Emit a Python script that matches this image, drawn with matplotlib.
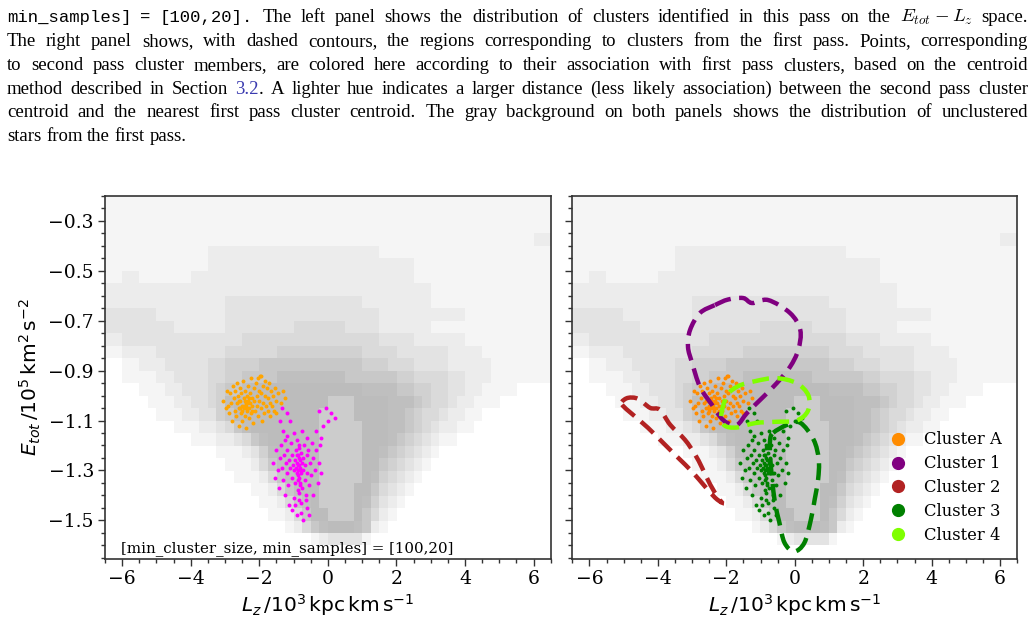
import numpy as np
import matplotlib
matplotlib.use('Agg')
import matplotlib.pyplot as plt
from matplotlib.path import Path
from matplotlib.patches import PathPatch
from matplotlib.ticker import MultipleLocator
from matplotlib.lines import Line2D

# ---------------- data ----------------
# gray background: fill level (0-9) of unclustered first-pass stars.
# cells are 0.25 (Lz) x 0.05 (Etot); each row has 13 groups of 4 cells
# (group k covers Lz = -6.5+k .. -5.5+k); rows run from Etot=-0.20 (top) to -1.65
bg_Lz_range = (-6.5, 6.5)
bg_E_range = (-1.65, -0.20)
bg_rows = [
    "1111 1111 1111 1111 1111 1111 1111 1111 1111 1111 1111 1111 1111",
    "1111 1111 1111 1111 1111 1111 1111 1111 1111 1111 1111 1111 1111",
    "1111 1111 1111 1111 1111 1111 1111 1111 1111 1111 1111 1111 1111",
    "1111 1111 1111 1111 1111 1111 1111 1111 1111 1111 1111 1111 1122",
    "1111 1111 1111 2222 2222 2222 2222 2222 1111 1111 1111 1111 1111",
    "1111 1111 1111 2222 2222 2222 2222 2222 2222 1111 1111 1111 1111",
    "1122 1111 1122 2222 2222 2222 2222 2222 2222 1111 1111 1111 1111",
    "2222 2222 2222 2222 2222 2222 2222 2222 2222 2211 1111 1111 1111",
    "2222 2222 2222 2233 3333 3333 3333 3322 2222 2211 1111 1111 1111",
    "3333 3322 2222 2233 3333 3333 3333 3333 2222 2222 2211 1111 1111",
    "3333 3333 2222 2233 3333 3344 4444 3333 2222 2211 1111 1111 1111",
    "2233 3333 3333 3333 4444 4444 4444 4444 3333 2222 2211 1111 1111",
    "1122 2233 3333 3344 4444 5555 5555 5544 4433 3333 2222 1111 1111",
    "0011 2223 3333 4455 5566 6666 6666 6655 5444 3333 2222 2111 1111",
    "0011 1122 3333 4455 6666 7777 7777 6666 6655 4444 3322 2111 1111",
    "0000 1112 2333 4566 7888 8888 8888 8877 7766 5544 3322 1111 0000",
    "0000 0111 2233 4578 8888 8888 8899 9888 8777 6544 3221 1100 0000",
    "0000 0011 1223 3568 8888 8888 8999 9888 8776 5443 2211 0000 0000",
    "0000 0000 1112 2346 7888 8888 8999 9988 8776 5432 2110 0000 0000",
    "0000 0000 0011 1223 4678 8888 8999 9988 8765 4321 1000 0000 0000",
    "0000 0000 0000 0111 2357 8888 8999 9988 7654 3210 0000 0000 0000",
    "0000 0000 0000 0011 1246 7888 8999 9988 6543 2100 0000 0000 0000",
    "0000 0000 0000 0001 1124 6788 8999 9987 5432 1000 0000 0000 0000",
    "0000 0000 0000 0000 0112 4678 8999 9886 4321 0000 0000 0000 0000",
    "0000 0000 0000 0000 0011 2467 8999 9875 3210 0000 0000 0000 0000",
    "0000 0000 0000 0000 0001 1246 8899 9864 2100 0000 0000 0000 0000",
    "0000 0000 0000 0000 0000 0124 6788 8762 1000 0000 0000 0000 0000",
    "0000 0000 0000 0000 0000 0000 1233 3310 0000 0000 0000 0000 0000",
    "0000 0000 0000 0000 0000 0000 0000 0000 0000 0000 0000 0000 0000",
]

# second-pass cluster A members
A_Lz = [-3.05, -2.98, -2.95, -2.92, -2.88, -2.85, -2.82, -2.80, -2.78, -2.75, -2.72, -2.70,
        -2.68, -2.66, -2.64, -2.62, -2.60, -2.58, -2.57, -2.55, -2.53, -2.52, -2.50, -2.49,
        -2.47, -2.46, -2.44, -2.43, -2.41, -2.40, -2.39, -2.38, -2.36, -2.35, -2.34, -2.33,
        -2.31, -2.30, -2.28, -2.27, -2.25, -2.24, -2.22, -2.20, -2.18, -2.16, -2.14, -2.12,
        -2.10, -2.08, -2.06, -2.04, -2.02, -2.00, -1.98, -1.96, -1.94, -1.92, -1.90, -1.88,
        -1.86, -1.84, -1.82, -1.80, -1.78, -1.76, -1.74, -1.72, -1.70, -1.68, -1.65, -1.62,
        -1.60, -1.57, -1.55, -1.52, -2.45, -2.38, -2.42, -2.36, -2.50, -2.30, -2.55, -2.20,
        -2.60, -1.45, -1.38, -1.30, -1.25, -1.50, -1.95, -2.05]
A_E = [-1.02, -1.05, -0.98, -1.04, -1.07, -0.99, -1.03, -1.10, -0.96, -1.01, -1.06, -0.98,
       -1.08, -1.03, -0.95, -1.00, -1.05, -1.12, -0.97, -1.02, -1.07, -0.99, -1.04, -1.10,
       -0.94, -1.01, -1.05, -1.08, -0.98, -1.03, -1.04, -1.13, -1.00, -1.06, -0.96, -1.02,
       -1.05, -1.09, -0.99, -1.03, -1.07, -0.93, -1.01, -1.04, -1.11, -0.97, -1.02, -1.06,
       -0.95, -1.00, -1.04, -1.08, -0.98, -1.02, -0.92, -1.05, -0.99, -1.10, -0.96, -1.03,
       -1.07, -0.94, -1.00, -1.04, -0.97, -1.06, -1.01, -0.95, -1.03, -1.08, -0.98, -1.04,
       -1.00, -1.06, -0.97, -1.02, -1.04, -1.05, -1.02, -1.03, -1.06, -1.01, -1.05, -1.06,
       -1.02, -0.99, -1.03, -0.98, -1.01, -1.07, -0.92, -0.93]

# second-pass cluster B members
B_Lz = [-0.25, -0.05, 0.10, 0.20, 0.00, -0.15, -1.35, -1.20, -1.40, -1.10, -1.20, -1.25,
        -0.20, -0.35,
        -1.60, -1.55, -1.50, -1.45, -1.42, -1.40, -1.36, -1.33, -1.30, -1.28, -1.25, -1.22,
        -1.20, -1.18, -1.15, -1.13, -1.10, -1.08, -1.06, -1.04, -1.02, -1.00, -0.98, -0.96,
        -0.95, -0.93, -0.92, -0.90, -0.89, -0.88, -0.87, -0.86, -0.85, -0.84, -0.83, -0.82,
        -0.81, -0.80, -0.79, -0.78, -0.77, -0.76, -0.75, -0.73, -0.72, -0.70, -0.68, -0.66,
        -0.64, -0.62, -0.60, -0.57, -0.55, -0.52, -0.50, -0.47, -0.44, -0.42, -0.38, -0.35,
        -0.30, -0.27, -0.22, -0.20,
        -0.85, -0.84, -0.86, -0.83, -0.85, -0.88, -0.82, -0.90, -0.80, -0.87,
        -1.05, -0.95, -0.78, -0.72, -0.62, -0.55, -0.90, -0.65, -1.12,
        -1.00, -0.75, -0.60, -0.90, -1.30]
B_E = [-1.06, -1.05, -1.07, -1.09, -1.10, -1.12, -1.05, -1.07, -1.10, -1.10, -1.16, -1.18,
       -1.17, -1.14,
       -1.27, -1.33, -1.22, -1.30, -1.37, -1.25, -1.20, -1.29, -1.34, -1.24, -1.40, -1.27,
       -1.31, -1.22, -1.36, -1.26, -1.29, -1.19, -1.33, -1.24, -1.28, -1.41, -1.30, -1.26,
       -1.35, -1.22, -1.29, -1.31, -1.27, -1.38, -1.24, -1.30, -1.28, -1.33, -1.21, -1.26,
       -1.35, -1.29, -1.43, -1.23, -1.31, -1.27, -1.37, -1.25, -1.30, -1.20, -1.34, -1.28,
       -1.40, -1.24, -1.31, -1.22, -1.36, -1.27, -1.32, -1.19, -1.40, -1.25, -1.30, -1.22,
       -1.35, -1.27, -1.20, -1.31,
       -1.20, -1.25, -1.34, -1.39, -1.42, -1.32, -1.30, -1.24, -1.36, -1.28,
       -1.46, -1.44, -1.47, -1.50, -1.45, -1.48, -1.48, -1.42, -1.44,
       -1.15, -1.14, -1.17, -1.18, -1.14]

# first-pass cluster regions (contour outlines)
c1_Lz = [-2.33, -1.95, -1.51, -1.25, -0.78, -0.14, 0.16, 0.10, -0.14, -0.52, -0.92, -1.39,
         -1.68, -1.98, -2.18, -2.42, -2.77, -3.00, -3.12, -3.06, -2.77]
c1_E = [-0.637, -0.615, -0.609, -0.629, -0.617, -0.669, -0.737, -0.817, -0.885, -0.949,
        -1.005, -1.069, -1.117, -1.109, -1.085, -1.037, -0.965, -0.869, -0.805, -0.737, -0.669]
c2_Lz = [-5.05, -4.87, -4.58, -4.23, -3.94, -3.64, -3.21, -2.91, -2.71, -2.47, -2.24, -2.13,
         -2.33, -2.62, -3.00, -3.41, -3.85, -4.29, -4.76, -5.02]
c2_E = [-1.025, -1.009, -1.013, -1.049, -1.057, -1.117, -1.177, -1.237, -1.289, -1.357,
        -1.409, -1.429, -1.409, -1.365, -1.305, -1.249, -1.189, -1.129, -1.073, -1.041]
c3_Lz = [-0.63, -0.22, 0.16, 0.55, 0.70, 0.68, 0.58, 0.47, 0.28, -0.02, -0.30, -0.45,
         -0.58, -0.66, -0.72, -0.72]
c3_E = [-1.149, -1.117, -1.109, -1.177, -1.257, -1.337, -1.417, -1.497, -1.590, -1.625,
        -1.590, -1.509, -1.429, -1.337, -1.245, -1.177]
c4_Lz = [-2.15, -1.98, -1.65, -1.15, -0.55, 0.05, 0.40, 0.38, 0.05, -0.55, -1.15, -1.70, -2.05]
c4_E = [-1.08, -1.00, -0.962, -0.942, -0.930, -0.950, -1.000, -1.062, -1.100, -1.105,
        -1.110, -1.128, -1.120]

legend_labels = ["Cluster A", "Cluster 1", "Cluster 2", "Cluster 3", "Cluster 4"]
legend_colors = ["#ff8c00", "#800080", "#b22222", "#008000", "#7fff00"]

caption_lines = [
    "`min_samples] `= `[100,20]. The left panel shows the distribution of clusters identified in this pass on the $E_{tot}-L_z$ space.",
    "The right panel shows, with dashed contours, the regions corresponding to clusters from the first pass. Points, corresponding",
    "to second pass cluster members, are colored here according to their association with first pass clusters, based on the centroid",
    "method described in Section @3.2@. A lighter hue indicates a larger distance (less likely association) between the second pass cluster",
    "centroid and the nearest first pass cluster centroid. The gray background on both panels shows the distribution of unclustered",
    "stars from the first pass.",
]
caption_baselines = [22, 46, 70, 94, 117, 141]

# ---------------- figure ----------------
plt.rcParams['font.family'] = 'DejaVu Serif'
plt.rcParams['mathtext.fontset'] = 'dejavusans'
plt.rcParams['axes.unicode_minus'] = True

W, H = 1034, 624
fig = plt.figure(figsize=(W / 100, H / 100), dpi=100)
renderer = fig.canvas.get_renderer()

# caption (justified)
cap_fs = 13.5
serif = 'Liberation Serif'


def style_kw(style):
    if style == 'tt':
        return dict(family='Liberation Mono', fontsize=cap_fs * 0.92, color='black')
    if style == 'math':
        return dict(family=serif, fontsize=cap_fs, math_fontfamily='cm', color='black')
    if style == 'link':
        return dict(family=serif, fontsize=cap_fs, color='#3b3bb0')
    return dict(family=serif, fontsize=cap_fs, color='black')


def word_pieces(word):
    if word.startswith('`'):
        return [(word[1:], 'tt')]
    if word.startswith('$'):
        return [(word, 'math')]
    if '@' in word:
        a, b, c = word.split('@')
        return [(p, s) for p, s in ((a, 'rm'), (b, 'link'), (c, 'rm')) if p]
    return [(word, 'rm')]


def text_width(s, kw):
    t = fig.text(0, 0, s, **kw)
    w = t.get_window_extent(renderer).width
    t.remove()
    return w


x_left, x_right = 7, 1028
for li, (line, yb) in enumerate(zip(caption_lines, caption_baselines)):
    words = [w for w in line.split(' ') if w]
    wp = [word_pieces(w) for w in words]
    widths = [[text_width(p, style_kw(s)) for p, s in pcs] for pcs in wp]
    tot = sum(sum(ws) for ws in widths)
    last = (li == len(caption_lines) - 1)
    if last:
        gap = text_width('a b', style_kw('rm')) - text_width('ab', style_kw('rm'))
    else:
        gap = (x_right - x_left - tot) / (len(words) - 1)
    x = x_left
    for pcs, ws in zip(wp, widths):
        for (p, s), w in zip(pcs, ws):
            fig.text(x / W, 1 - yb / H, p, ha='left', va='baseline', **style_kw(s))
            x += w
        x += gap

# axes
ax_bottom = 1 - 559 / H
ax_h = 363 / H
axL = fig.add_axes([105 / W, ax_bottom, 445.7 / W, ax_h])
axR = fig.add_axes([572.3 / W, ax_bottom, 445.0 / W, ax_h])

levels = np.array([[int(c) for c in r.replace(' ', '')] for r in bg_rows], dtype=float)
rgba = np.ones(levels.shape + (4,))
rgba[..., 3] = 0.0
for v in range(1, 10):
    m = levels == v
    if v <= 7:
        rgba[m] = (0.70, 0.70, 0.70, v / 8.5)
    elif v == 8:
        rgba[m] = (0.74, 0.74, 0.74, 1.0)
    else:
        rgba[m] = (0.80, 0.80, 0.80, 1.0)


def smooth_closed(xs, ys):
    pts = np.column_stack([xs, ys])
    n = len(pts)
    verts = [pts[0]]
    codes = [Path.MOVETO]
    for i in range(n):
        p0, p1, p2, p3 = pts[i - 1], pts[i], pts[(i + 1) % n], pts[(i + 2) % n]
        c1 = p1 + (p2 - p0) / 6.0
        c2 = p2 - (p3 - p1) / 6.0
        verts += [c1, c2, p2]
        codes += [Path.CURVE4] * 3
    return Path(verts, codes)


for ax in (axL, axR):
    ax.imshow(rgba, extent=[bg_Lz_range[0], bg_Lz_range[1], bg_E_range[0], bg_E_range[1]],
              origin='upper', aspect='auto', interpolation='nearest', zorder=0)
    ax.set_xlim(-6.5, 6.5)
    ax.set_ylim(-1.655, -0.2)
    ax.set_xticks([-6, -4, -2, 0, 2, 4, 6])
    ax.xaxis.set_minor_locator(MultipleLocator(0.5))
    ax.set_yticks([-1.5, -1.3, -1.1, -0.9, -0.7, -0.5, -0.3])
    ax.yaxis.set_minor_locator(MultipleLocator(0.05))
    ax.tick_params(which='major', direction='out', length=5, width=1, labelsize=13.5,
                   color='#333333', pad=3)
    ax.tick_params(which='minor', direction='out', length=3, width=1, color='#333333')
    for sp in ax.spines.values():
        sp.set_linewidth(1.2)
        sp.set_color('#333333')
    ax.set_xlabel(r'$L_z\,/10^3\,\mathrm{kpc}\,\mathrm{km}\,\mathrm{s}^{-1}$', fontsize=14.5,
                  labelpad=3)

axL.set_ylabel(r'$E_{tot}\,/10^5\,\mathrm{km}^2\,\mathrm{s}^{-2}$', fontsize=14.5, labelpad=4)
axR.tick_params(labelleft=False)

# left panel
axL.scatter(A_Lz, A_E, s=8, color='#ffa500', linewidths=0, zorder=3)
axL.scatter(B_Lz, B_E, s=8, color='#ff00ff', linewidths=0, zorder=3)
axL.text(0.036, 0.008, '[min_cluster_size, min_samples] = [100,20]', transform=axL.transAxes,
         fontsize=10.8, ha='left', va='bottom')

# right panel
axR.scatter(A_Lz, A_E, s=8, color='#ff8c00', linewidths=0, zorder=3)
axR.scatter(B_Lz, B_E, s=8, color='#008000', linewidths=0, zorder=3)
for xs, ys, col in ((c1_Lz, c1_E, legend_colors[1]), (c2_Lz, c2_E, legend_colors[2]),
                    (c3_Lz, c3_E, legend_colors[3]), (c4_Lz, c4_E, legend_colors[4])):
    axR.add_patch(PathPatch(smooth_closed(xs, ys), facecolor='none', edgecolor=col,
                            lw=3.2, ls=(0, (3.8, 1.9)), zorder=4))

handles = [Line2D([], [], marker='o', ls='', color=c, markersize=8.5) for c in legend_colors]
axR.legend(handles, legend_labels, loc='lower left', bbox_to_anchor=(0.683, 0.01),
           frameon=False, fontsize=11.8, handlelength=1.2, handletextpad=1.0,
           labelspacing=0.42, borderpad=0.2)

fig.savefig('out.png', dpi=100)
